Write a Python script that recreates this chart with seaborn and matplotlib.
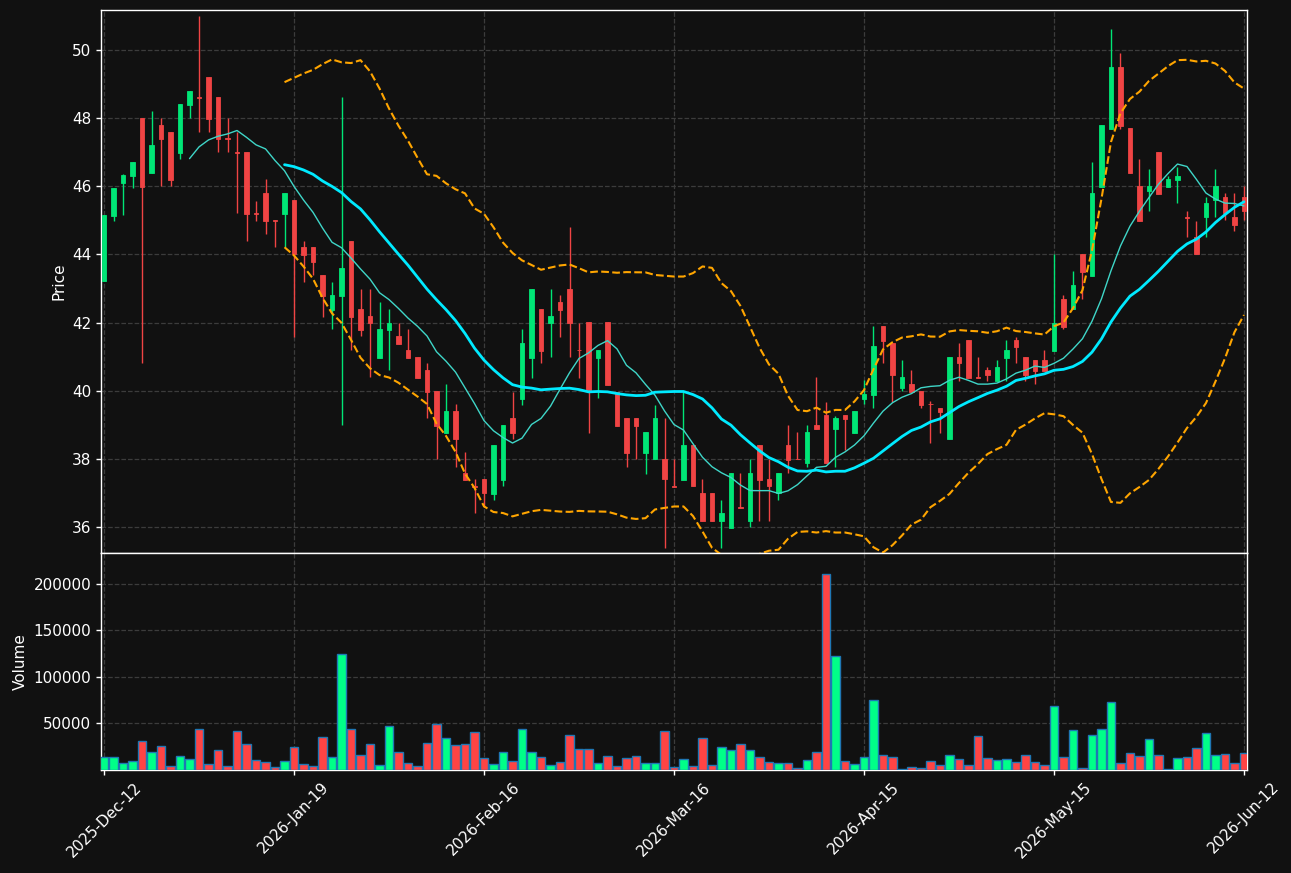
import numpy as np
import pandas as pd
import matplotlib
matplotlib.use("Agg")
import matplotlib.pyplot as plt
import seaborn as sns

opens = [43.23, 45.14, 46.11, 46.31, 48.00, 46.40, 47.80, 47.59, 46.99, 48.40,
         48.62, 49.21, 48.62, 47.42, 47.00, 47.01, 45.22, 45.80, 45.00, 45.20,
         45.60, 44.22, 44.22, 43.40, 42.38, 42.79, 44.39, 42.40, 42.19, 40.97,
         41.79, 41.61, 41.20, 40.99, 40.61, 39.99, 38.77, 39.40, 37.59, 37.20,
         37.40, 36.98, 37.38, 39.19, 39.77, 40.97, 42.39, 42.00, 42.60, 43.00,
         41.21, 42.02, 40.97, 42.02, 39.97, 39.19, 39.19, 38.18, 37.99, 37.99,
         37.20, 37.38, 38.41, 37.00, 37.00, 36.19, 35.98, 36.59, 36.19, 38.41,
         37.41, 36.99, 38.41, 38.01, 37.89, 38.99, 39.29, 38.89, 39.29, 38.77,
         39.77, 39.87, 41.90, 41.40, 40.09, 40.20, 39.99, 39.62, 39.49, 38.58,
         40.99, 41.48, 40.40, 40.61, 40.29, 40.97, 41.48, 40.98, 40.90, 40.90,
         41.17, 42.68, 42.39, 44.00, 43.37, 45.99, 47.69, 49.50, 47.71, 46.01,
         45.87, 47.01, 45.99, 46.19, 45.10, 44.50, 45.09, 45.60, 45.69, 45.09,
         45.69]
highs = [45.16, 45.95, 46.35, 46.72, 48.00, 48.21, 48.00, 47.60, 48.42, 48.80,
         51.00, 49.22, 48.62, 48.00, 47.60, 47.02, 45.58, 46.20, 45.00, 45.80,
         45.60, 44.39, 44.22, 43.40, 43.18, 48.62, 44.40, 43.00, 43.00, 42.60,
         42.39, 42.00, 41.80, 41.00, 40.80, 40.00, 40.19, 39.61, 38.19, 37.40,
         37.40, 38.40, 39.00, 39.97, 41.80, 43.00, 42.40, 43.00, 42.81, 44.80,
         42.00, 42.02, 41.20, 42.02, 39.97, 39.19, 39.19, 38.79, 39.58, 39.19,
         38.00, 39.97, 38.41, 37.40, 37.00, 36.79, 37.58, 37.58, 37.99, 38.41,
         38.00, 37.58, 38.99, 38.78, 38.99, 40.39, 39.68, 39.27, 39.29, 39.40,
         40.31, 41.90, 41.90, 41.40, 40.90, 40.61, 39.99, 39.70, 39.49, 40.99,
         41.39, 41.48, 40.98, 40.69, 40.90, 41.48, 41.59, 40.98, 40.90, 41.19,
         44.00, 42.80, 43.52, 44.00, 46.70, 47.79, 50.61, 49.90, 47.71, 46.79,
         46.50, 47.01, 46.30, 46.57, 45.28, 44.99, 45.69, 46.50, 45.79, 45.79,
         46.01]
lows = [43.23, 44.98, 45.16, 45.94, 40.80, 46.40, 46.01, 46.00, 46.79, 48.00,
        47.58, 47.58, 47.00, 47.00, 45.21, 44.39, 44.99, 44.59, 44.21, 44.21,
        41.59, 43.18, 43.40, 42.17, 41.80, 38.99, 41.20, 41.61, 40.39, 40.97,
        40.61, 41.38, 40.97, 40.38, 39.19, 37.99, 38.77, 37.77, 37.39, 36.40,
        36.60, 36.79, 37.20, 38.59, 39.58, 40.38, 40.80, 40.98, 41.59, 40.98,
        40.38, 38.77, 39.78, 40.17, 38.97, 37.77, 37.99, 37.57, 37.99, 35.38,
        37.18, 37.38, 37.19, 36.19, 36.19, 35.37, 35.98, 36.57, 35.99, 36.19,
        36.19, 36.79, 37.58, 37.99, 37.77, 38.89, 37.89, 37.77, 38.26, 38.77,
        39.60, 39.48, 40.80, 39.68, 39.99, 39.97, 39.48, 38.47, 38.77, 38.58,
        40.29, 40.38, 40.38, 40.29, 40.29, 40.29, 40.80, 40.29, 40.19, 40.59,
        41.17, 41.80, 42.39, 42.68, 43.37, 45.99, 47.69, 47.69, 46.40, 44.98,
        45.28, 45.78, 45.99, 45.50, 44.50, 44.00, 44.50, 45.09, 45.01, 44.70,
        45.01]
closes = [45.16, 45.94, 46.33, 46.71, 45.99, 47.21, 47.40, 46.18, 48.41, 48.80,
          48.60, 47.99, 47.40, 47.40, 46.99, 45.20, 45.20, 44.99, 44.99, 45.80,
          44.01, 43.99, 43.79, 42.79, 42.81, 43.60, 42.17, 41.79, 42.00, 41.81,
          42.00, 41.38, 40.97, 40.38, 39.97, 38.97, 39.40, 38.59, 37.39, 37.18,
          36.99, 38.40, 38.99, 38.77, 41.39, 43.00, 41.17, 42.19, 42.37, 42.00,
          41.19, 40.02, 41.20, 40.17, 38.97, 38.18, 38.97, 38.79, 39.19, 37.40,
          37.18, 38.41, 37.19, 36.19, 36.19, 36.40, 37.58, 36.57, 37.58, 37.38,
          37.19, 37.58, 37.97, 37.99, 38.78, 38.89, 37.89, 39.19, 39.18, 39.40,
          39.90, 41.31, 41.47, 40.47, 40.39, 39.97, 39.58, 39.60, 39.38, 40.99,
          40.80, 40.38, 40.38, 40.47, 40.69, 41.19, 41.28, 40.47, 40.59, 40.59,
          42.00, 41.87, 43.09, 43.49, 45.80, 47.79, 49.50, 47.77, 46.40, 44.98,
          46.01, 45.78, 46.20, 46.30, 45.08, 44.00, 45.50, 46.01, 45.21, 44.87,
          45.28]
volumes = [13800, 13800, 7450, 9900, 31200, 19500, 25900, 4300, 14900, 12100,
           44000, 6700, 21600, 4300, 41900, 28000, 11000, 8900, 3500, 9900,
           24800, 6700, 4300, 35500, 13800, 124500, 44000, 16300, 28000, 5700,
           47200, 19500, 7800, 4300, 29100, 49300, 34400, 27000, 28000, 40800,
           12800, 6700, 19500, 9900, 44000, 19500, 14200, 5700, 8900, 37600,
           22700, 22700, 7800, 15300, 4300, 13100, 15300, 7800, 7800, 41900,
           3500, 12100, 4300, 34400, 5700, 24800, 21600, 28000, 21600, 14200,
           8900, 7800, 7800, 2500, 11000, 19500, 211000, 122300, 9900, 6700,
           14200, 74900, 16300, 14200, 1400, 3500, 2500, 9900, 5700, 16300,
           12100, 5700, 36600, 13100, 11000, 12100, 8900, 16300, 8900, 5700,
           68500, 14200, 43000, 2500, 37600, 44000, 72800, 7800, 18500, 15300,
           33400, 16300, 1400, 13100, 14200, 23800, 39800, 16300, 17400, 7800,
           18500]
tick_labels = ["2025-Dec-12", "2026-Jan-19", "2026-Feb-16", "2026-Mar-16",
               "2026-Apr-15", "2026-May-15", "2026-Jun-12"]

BG = "#111111"
GRID = "#3c3c3c"
UP_C, DN_C = "#00e676", "#f04444"
UP_V, DN_V = "#00ff88", "#ff4444"

sns.set_theme(style="dark")
plt.rcParams.update({
    "figure.facecolor": BG, "axes.facecolor": BG, "axes.edgecolor": "white",
    "axes.labelcolor": "white", "xtick.color": "white", "ytick.color": "white",
    "text.color": "white", "xtick.bottom": True, "ytick.left": True,
})
plt.rcParams["font.family"] = ["DejaVu Sans"]

n = len(closes)
df = pd.DataFrame({"idx": np.arange(n), "open": opens, "high": highs,
                   "low": lows, "close": closes, "volume": volumes})
df["dir"] = np.where(df["close"] >= df["open"], "up", "down")
df["ma10"] = df["close"].rolling(10).mean()
df["ma20"] = df["close"].rolling(20).mean()
sd = df["close"].rolling(20).std(ddof=0)
df["bb_up"] = df["ma20"] + 2 * sd
df["bb_lo"] = df["ma20"] - 2 * sd

W, H = 1291, 873
fig = plt.figure(figsize=(W / 100, H / 100), dpi=100, facecolor=BG)
ax = fig.add_axes([101 / W, 1 - 553 / H, 1146 / W, 543 / H])
axv = fig.add_axes([101 / W, 1 - 770 / H, 1146 / W, 217 / H])

# candles
ccol = np.where(df["dir"] == "up", UP_C, DN_C)
ax.vlines(df["idx"], df["low"], df["high"], colors=ccol, linewidth=1.0, zorder=2)
body_lo = np.minimum(df["open"], df["close"])
body_h = np.abs(df["close"] - df["open"])
ax.bar(df["idx"], body_h, bottom=body_lo, width=0.48, color=ccol,
       edgecolor=ccol, linewidth=0.6, zorder=3)

# overlays
sns.lineplot(data=df, x="idx", y="ma10", ax=ax, color="#3fd6c8", linewidth=1.0, zorder=4)
sns.lineplot(data=df, x="idx", y="ma20", ax=ax, color="#00eaff", linewidth=2.0, zorder=4)
sns.lineplot(data=df, x="idx", y="bb_up", ax=ax, color="#ffa500", linewidth=1.5,
             linestyle="--", zorder=4)
sns.lineplot(data=df, x="idx", y="bb_lo", ax=ax, color="#ffa500", linewidth=1.5,
             linestyle="--", zorder=4)

# volume
sns.barplot(data=df, x="idx", y="volume", hue="dir", palette={"up": UP_V, "down": DN_V},
            dodge=False, native_scale=True, legend=False, ax=axv, width=0.88,
            saturation=1, edgecolor="#1f77b4", linewidth=1.0, zorder=3)

xt = np.arange(0, n, 20)
for a in (ax, axv):
    a.set_xlim(-0.32, n - 1 + 0.32)
    a.set_xticks(xt)
    a.grid(True, linestyle="--", color=GRID, linewidth=0.9)
    a.set_axisbelow(True)
    for s in a.spines.values():
        s.set_color("white")
        s.set_linewidth(1.0)
    a.tick_params(axis="both", colors="white", labelsize=11, length=3.5, width=1)

ax.set_ylim(35.237, 51.175)
ax.set_yticks(np.arange(36, 51, 2))
ax.tick_params(axis="x", labelbottom=False)
ax.set_xlabel("")
ax.set_ylabel("Price", fontsize=11, color="white")

axv.set_ylim(0, 233200)
axv.set_yticks([50000, 100000, 150000, 200000])
axv.set_yticklabels(["50000", "100000", "150000", "200000"])
axv.set_xticks(xt)
axv.set_xticklabels(tick_labels, rotation=45, ha="center", fontsize=11)
axv.set_xlabel("")
axv.set_ylabel("Volume", fontsize=11, color="white")

fig.savefig("out.png", dpi=100, facecolor=BG)
